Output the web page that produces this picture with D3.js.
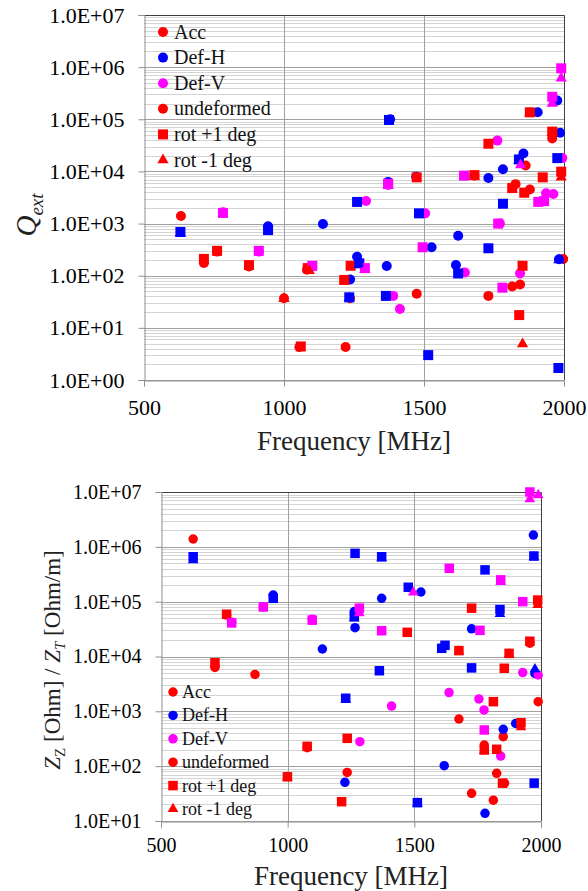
<!DOCTYPE html>
<html>
<head>
<meta charset="utf-8">
<script src="https://cdn.jsdelivr.net/npm/d3@7"></script>
<style>
  body { margin: 0; background: #fff; }
  svg text { font-family: "Liberation Serif", "Times New Roman", serif; }
</style>
</head>
<body>
<svg width="588" height="891"></svg>
<script>
// ---- data: top chart (Q_ext vs frequency), [MHz, value]
var qAccUndef = [[632,1400],[714,175],[761,290],[875,150],[1000,37],[1055,4.3],[1082,130],[1220,4.3],[1236,37],[1474,45],[1680,8300],[1730,41],[1815,62],[1843,68],[1827,5700],[1878,4500],[1863,13000],[1958,43000],[1997,210]];
var qAccRotP  = [[714,210],[761,300],[875,160],[1060,4.4],[1085,140],[1215,83],[1238,155],[1474,7700],[1680,8500],[1730,34000],[1815,4800],[1852,155],[1840,17.6],[1858,3900],[1878,136000],[1924,7700],[1958,58000],[1990,9900]];
var qAccRotM  = [[1000,36],[1090,125],[1680,8000],[1852,4.9],[1990,7700],[1878,130000],[1958,55000]];
var qDefHUndef = [[943,890],[1139,980],[1236,85],[1261,231],[1367,153],[1379,100000],[1472,7900],[1527,351],[1614,160],[1622,585],[1730,7500],[1782,11000],[1855,22000],[1906,136000],[1976,230000],[1986,55000],[1982,207],[1372,6300]];
var qDefHRotP  = [[630,690],[943,750],[1233,38.5],[1261,2600],[1269,173],[1364,41],[1375,97000],[1482,1570],[1515,3.0],[1622,111],[1730,336],[1782,2400],[1839,17000],[1976,18000],[1980,1.7]];
var qDefHRotM  = [[630,650],[1269,165],[1839,16000],[1982,200],[1233,37]];
var qDefVUndef = [[782,1650],[910,290],[1101,150],[1293,2700],[1372,5500],[1390,41],[1414,23],[1504,1570],[1646,115],[1762,39000],[1771,1000],[1843,111],[1936,3800],[1962,3700],[1994,18000]];
var qDefVRotP  = [[782,1600],[910,300],[1101,155],[1289,140],[1372,5800],[1495,351],[1643,8300],[1765,1000],[1780,59],[1908,2600],[1929,2700],[1958,270000],[1990,950000]];
var qDefVRotM  = [[1289,130],[1372,5300],[1845,13300],[1958,200000],[1990,610000]];

// ---- data: bottom chart (Z_Z / Z_T vs frequency)
var zAccUndef = [[627,1.39e6],[759,5.7e4],[713,6.3e3],[871,4.7e3],[1077,217],[1235,77],[1676,725],[1851,345],[1776,243],[1825,74],[1856,49],[1726,32],[1812,24],[1989,1500],[1956,1.75e4]];
var zAccRotP  = [[759,5.9e4],[713,7.7e3],[999,64],[1235,322],[1213,22.5],[1472,2.76e4],[1726,7.6e4],[1676,1.28e4],[1874,1.14e4],[1855,6.1e3],[1812,1.5e3],[1921,620],[1776,197],[1825,203],[1848,49],[1956,1.9e4],[1987,1.07e5],[1077,230]];
var zAccRotM  = [[1987,8.7e4],[1921,515],[1676,1.24e4],[1874,1.1e4],[1776,190],[713,7.2e3],[999,62]];
var zDefHUndef = [[943,1.32e5],[1137,1.37e4],[1263,6.6e4],[1266,3.35e4],[1371,1.15e5],[1526,1.5e5],[1726,3.2e4],[1970,1.64e6],[1976,4.9e3],[1900,600],[1851,470],[1618,102],[1226,50.7],[1779,13.8]];
var zDefHRotP  = [[627,6.6e5],[943,1.15e5],[1266,7.6e5],[1371,6.6e5],[1779,3.8e5],[1476,1.83e5],[1263,5.3e4],[1838,7.2e4],[1608,1.41e4],[1621,1.6e4],[1362,5.5e3],[1726,6.2e3],[1229,1.73e3],[1972,6.8e5],[1973,49],[1512,21.6]];
var zDefHRotM  = [[627,5.7e5],[1371,6.2e5],[1838,6.0e4],[1976,5.9e3],[1263,5.0e4],[1512,21],[1229,1.65e3],[1972,6.5e5]];
var zDefVUndef = [[904,8.1e4],[779,4.2e4],[1097,4.8e4],[1283,7.6e4],[1637,2.2e3],[1755,1.68e3],[1775,1.06e3],[1410,1.25e3],[1285,280],[1841,153],[1928,5.1e3],[1989,4.6e3]];
var zDefVRotP  = [[904,8.0e4],[779,4.1e4],[1097,4.6e4],[1283,7.6e4],[1638,4.06e5],[1841,2.5e5],[1928,1.0e5],[1371,2.95e4],[1759,3.0e4],[1776,457],[1956,1.0e7]];
var zDefVRotM  = [[1496,1.48e5],[1283,6.2e4],[1841,2.3e5],[1956,7.4e6],[1989,8.8e6]];

var xTicks = [500, 1000, 1500, 2000];
var legendLabels = ['Acc', 'Def-H', 'Def-V', 'undeformed', 'rot +1 deg', 'rot -1 deg'];
var legendColors = ['red', 'blue', 'magenta', 'red', 'red', 'red'];
var legendShapes = ['circle', 'circle', 'circle', 'circle', 'square', 'triangle'];

var svg = d3.select('svg');
var serif = '"Liberation Serif", "Times New Roman", serif';

// symbol path for a marker shape
function marker(shape, s) {
    if (shape === 'square') return d3.symbol(d3.symbolSquare, s * s)();
    if (shape === 'triangle') return d3.symbol(d3.symbolTriangle, s * s * 0.55)();
    return d3.symbol(d3.symbolCircle, Math.PI * s * s / 4)();
}

function expLabel(d) {
    var e = Math.round(Math.log10(d));
    return '1.0E' + (e < 0 ? '-' : '+') + String(Math.abs(e)).padStart(2, '0');
}

function drawChart(c) {
    var g = svg.append('g');
    var x = d3.scaleLinear().domain([500, 2000]).range([c.left, c.right]);
    var y = d3.scaleLog().domain([c.ymin, c.ymax]).range([c.bottom, c.top]);

    var eMin = Math.round(Math.log10(c.ymin)), eMax = Math.round(Math.log10(c.ymax));
    var minor = [], major = [];
    for (var e = eMin; e < eMax; e++) {
        for (var m = 2; m <= 9; m++) minor.push(m * Math.pow(10, e));
    }
    for (var e = eMin; e <= eMax; e++) major.push(Math.pow(10, e));

    // minor gridlines
    g.selectAll('.minor').data(minor).enter().append('line')
        .attr('x1', c.left).attr('x2', c.right)
        .attr('y1', d => Math.round(y(d)) + 0.5).attr('y2', d => Math.round(y(d)) + 0.5)
        .attr('stroke', '#d4d4d4').attr('stroke-width', 1);
    // major gridlines
    g.selectAll('.major').data(major).enter().append('line')
        .attr('x1', c.left).attr('x2', c.right)
        .attr('y1', d => Math.round(y(d)) + 0.5).attr('y2', d => Math.round(y(d)) + 0.5)
        .attr('stroke', '#a0a0a0').attr('stroke-width', 1);
    // vertical gridlines
    g.selectAll('.vgrid').data(xTicks.slice(1, -1)).enter().append('line')
        .attr('x1', d => Math.round(x(d)) + 0.5).attr('x2', d => Math.round(x(d)) + 0.5)
        .attr('y1', c.top).attr('y2', c.bottom)
        .attr('stroke', '#a0a0a0').attr('stroke-width', 1);

    // frame (top/right dark)
    g.append('path')
        .attr('d', 'M' + c.left + ',' + (c.top + 0.5) + 'H' + (c.right + 0.5) + 'V' + c.bottom)
        .attr('fill', 'none').attr('stroke', '#404040').attr('stroke-width', 1);

    // axes
    var yAxis = d3.axisLeft(y).tickValues(major).tickFormat(expLabel).tickSize(6).tickPadding(14);
    var ya = g.append('g').attr('transform', 'translate(' + (c.left + 0.5) + ',0)').call(yAxis);
    var xAxis = d3.axisBottom(x).tickValues(xTicks).tickFormat(d3.format('d')).tickSize(6).tickPadding(c.xPad);
    var xa = g.append('g').attr('transform', 'translate(0,' + (c.bottom + 0.5) + ')').call(xAxis);
    [ya, xa].forEach(function (a) {
        a.attr('font-family', serif).attr('font-size', c.tickFont);
        a.select('.domain').attr('stroke', '#909090');
        a.selectAll('.tick line').attr('stroke', '#909090');
        a.selectAll('.tick text').attr('fill', '#000')
            .attr('font-family', serif).attr('font-size', c.tickFont);
    });

    // markers: circles first, then squares, then triangles
    var order = [
        [c.data[0], 'red', 'circle'], [c.data[3], 'blue', 'circle'], [c.data[6], 'magenta', 'circle'],
        [c.data[1], 'red', 'square'], [c.data[4], 'blue', 'square'], [c.data[7], 'magenta', 'square'],
        [c.data[2], 'red', 'triangle'], [c.data[5], 'blue', 'triangle'], [c.data[8], 'magenta', 'triangle']
    ];
    order.forEach(function (s) {
        g.append('g').selectAll('path').data(s[0]).enter().append('path')
            .attr('d', marker(s[2], c.msize))
            .attr('transform', d => 'translate(' + x(d[0]) + ',' + y(d[1]) + ')')
            .attr('fill', s[1]);
    });

    // x title
    g.append('text').attr('x', (c.left + c.right) / 2).attr('y', c.xTitleY)
        .attr('text-anchor', 'middle').attr('font-size', 27).attr('fill', '#222')
        .text('Frequency [MHz]');

    // legend
    var lg = g.append('g');
    legendLabels.forEach(function (l, i) {
        var yy = c.legY + i * c.legStep;
        lg.append('path').attr('d', marker(legendShapes[i], c.msize))
            .attr('transform', 'translate(' + c.legX + ',' + yy + ')').attr('fill', legendColors[i]);
        lg.append('text').attr('x', c.legX + c.legTextDx).attr('y', yy + c.legFont * 0.33)
            .attr('font-size', c.legFont).attr('fill', '#111').text(l);
    });
    return g;
}

var topChart = drawChart({
    left: 144, right: 564, top: 15, bottom: 380, ymin: 1, ymax: 1e7,
    tickFont: 22, xPad: 13, xTitleY: 450, msize: 10,
    legX: 163, legY: 32, legStep: 25.6, legTextDx: 11, legFont: 20,
    data: [qAccUndef, qAccRotP, qAccRotM, qDefHUndef, qDefHRotP, qDefHRotM, qDefVUndef, qDefVRotP, qDefVRotM]
});
topChart.append('text').attr('transform', 'translate(36,215) rotate(-90)')
    .attr('text-anchor', 'middle').attr('fill', '#222')
    .attr('font-style', 'italic').attr('font-size', 29)
    .text('Q')
    .append('tspan').attr('dy', 7).attr('font-size', 19).text('ext');

var bottomChart = drawChart({
    left: 161, right: 541, top: 492, bottom: 821, ymin: 10, ymax: 1e7,
    tickFont: 20, xPad: 10, xTitleY: 885, msize: 9.5,
    legX: 173, legY: 692, legStep: 23.4, legTextDx: 9, legFont: 18,
    data: [zAccUndef, zAccRotP, zAccRotM, zDefHUndef, zDefHRotP, zDefHRotM, zDefVUndef, zDefVRotP, zDefVRotM]
});
var zt = bottomChart.append('text').attr('transform', 'translate(60,660) rotate(-90)')
    .attr('text-anchor', 'middle').attr('fill', '#222').attr('font-size', 23);
zt.append('tspan').attr('font-style', 'italic').text('Z');
zt.append('tspan').attr('dy', 5).attr('font-size', 15).text('Z');
zt.append('tspan').attr('dy', -5).text(' [Ohm] / ');
zt.append('tspan').attr('font-style', 'italic').text('Z');
zt.append('tspan').attr('dy', 5).attr('font-size', 15).attr('font-style', 'italic').text('T');
zt.append('tspan').attr('dy', -5).text(' [Ohm/m]');
</script>
</body>
</html>
